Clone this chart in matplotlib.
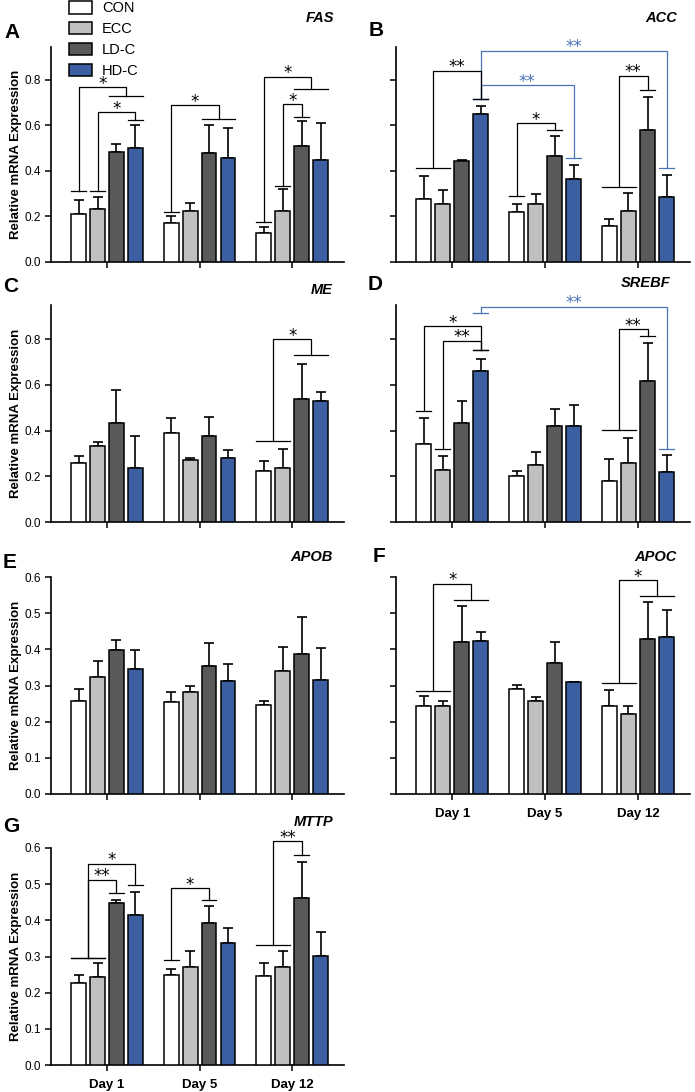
import numpy as np
import matplotlib
matplotlib.use('Agg')
import matplotlib.pyplot as plt
from matplotlib.patches import Patch

plt.rcParams['font.family'] = ['Liberation Sans', 'DejaVu Sans']

# groups and days
groups = ['CON', 'ECC', 'LD-C', 'HD-C']
days = ['Day 1', 'Day 5', 'Day 12']
colors = ['#ffffff', '#c0c0c0', '#595959', '#3b5fa1']
blue_line = '#4a72b8'

# mean values, rows = days, columns = groups
fas_mean = [[0.213, 0.231, 0.485, 0.502], [0.173, 0.225, 0.478, 0.459], [0.128, 0.226, 0.511, 0.449]]
fas_err = [[0.059, 0.055, 0.033, 0.098], [0.030, 0.033, 0.125, 0.131], [0.026, 0.093, 0.110, 0.163]]
acc_mean = [[0.276, 0.257, 0.443, 0.650], [0.219, 0.254, 0.464, 0.364], [0.159, 0.223, 0.581, 0.286]]
acc_err = [[0.103, 0.059, 0.005, 0.037], [0.038, 0.047, 0.090, 0.062], [0.032, 0.082, 0.146, 0.097]]
me_mean = [[0.258, 0.333, 0.435, 0.238], [0.391, 0.273, 0.375, 0.280], [0.223, 0.234, 0.540, 0.528]]
me_err = [[0.030, 0.017, 0.142, 0.137], [0.066, 0.009, 0.085, 0.037], [0.043, 0.084, 0.149, 0.041]]
srebf_mean = [[0.339, 0.226, 0.434, 0.660], [0.201, 0.248, 0.420, 0.420], [0.178, 0.258, 0.617, 0.219]]
srebf_err = [[0.118, 0.063, 0.096, 0.052], [0.021, 0.056, 0.073, 0.091], [0.099, 0.111, 0.164, 0.073]]
apob_mean = [[0.258, 0.323, 0.399, 0.346], [0.253, 0.283, 0.354, 0.312], [0.247, 0.340, 0.387, 0.315]]
apob_err = [[0.032, 0.045, 0.026, 0.051], [0.029, 0.017, 0.063, 0.047], [0.009, 0.066, 0.102, 0.089]]
apoc_mean = [[0.242, 0.244, 0.420, 0.424], [0.291, 0.257, 0.362, 0.309], [0.244, 0.221, 0.428, 0.434]]
apoc_err = [[0.028, 0.012, 0.101, 0.023], [0.011, 0.011, 0.057, 0.002], [0.044, 0.023, 0.102, 0.074]]
mttp_mean = [[0.226, 0.243, 0.447, 0.414], [0.249, 0.270, 0.392, 0.337], [0.245, 0.270, 0.461, 0.302]]
mttp_err = [[0.023, 0.039, 0.010, 0.064], [0.017, 0.046, 0.047, 0.043], [0.038, 0.044, 0.099, 0.067]]

# significance brackets: (left bars, left height, right bars, right height, top height, label, colour)
# bars given as (day index, group index)
fas_sig = [
    ([(0, 0)], 0.313, [(0, 2), (0, 3)], 0.731, 0.768, '*', 'k'),
    ([(0, 1)], 0.313, [(0, 3)], 0.624, 0.658, '*', 'k'),
    ([(1, 0)], 0.220, [(1, 2), (1, 3)], 0.627, 0.690, '*', 'k'),
    ([(2, 0)], 0.176, [(2, 2), (2, 3)], 0.760, 0.815, '*', 'k'),
    ([(2, 1)], 0.335, [(2, 2)], 0.639, 0.693, '*', 'k'),
]
acc_sig = [
    ([(0, 3)], 0.715, [(2, 3)], 0.411, 0.928, '**', blue_line),
    ([(0, 3)], 0.715, [(1, 3)], 0.455, 0.778, '**', blue_line),
    ([(0, 0), (0, 1)], 0.414, [(0, 3)], 0.715, 0.841, '**', 'k'),
    ([(1, 0)], 0.289, [(1, 2)], 0.580, 0.609, '*', 'k'),
    ([(2, 0), (2, 1)], 0.330, [(2, 2)], 0.756, 0.818, '**', 'k'),
]
me_sig = [
    ([(2, 0), (2, 1)], 0.353, [(2, 2), (2, 3)], 0.730, 0.800, '*', 'k'),
]
srebf_sig = [
    ([(0, 3)], 0.912, [(2, 3)], 0.321, 0.942, '**', blue_line),
    ([(0, 0)], 0.485, [(0, 3)], 0.752, 0.857, '*', 'k'),
    ([(0, 1)], 0.321, [(0, 3)], 0.752, 0.793, '**', 'k'),
    ([(2, 0), (2, 1)], 0.403, [(2, 2)], 0.813, 0.844, '**', 'k'),
]
apob_sig = []
apoc_sig = [
    ([(0, 0), (0, 1)], 0.286, [(0, 2), (0, 3)], 0.537, 0.582, '*', 'k'),
    ([(2, 0), (2, 1)], 0.307, [(2, 2), (2, 3)], 0.547, 0.591, '*', 'k'),
]
mttp_sig = [
    ([(0, 0), (0, 1)], 0.297, [(0, 3)], 0.497, 0.556, '*', 'k'),
    ([(0, 0), (0, 1)], 0.297, [(0, 2)], 0.476, 0.512, '**', 'k'),
    ([(1, 0)], 0.289, [(1, 2)], 0.456, 0.489, '*', 'k'),
    ([(2, 0), (2, 1)], 0.331, [(2, 2)], 0.580, 0.619, '**', 'k'),
]

W, H = 695, 1092
fig = plt.figure(figsize=(W / 100, H / 100), dpi=100)

pitch = 0.205
bw = 0.16


def bar_x(d, g):
    return d + (g - 1.5) * pitch


def px_axes(x0, x1, y0, y1):
    return fig.add_axes([x0 / W, 1 - y1 / H, (x1 - x0) / W, (y1 - y0) / H])


def draw_panel(ax, mean, err, sig, ymax, yticks, left, show_days):
    mean = np.array(mean)
    err = np.array(err)
    for g in range(4):
        xs = [bar_x(d, g) for d in range(3)]
        ax.bar(xs, mean[:, g], width=bw, color=colors[g], edgecolor='black',
               linewidth=1.1, zorder=3)
        ax.errorbar(xs, mean[:, g], yerr=[np.zeros(3), err[:, g]], fmt='none',
                    ecolor='black', elinewidth=1.2, capsize=3.5, capthick=1.2, zorder=2)
    for lb, lh, rb, rh, th, lab, col in sig:
        lx0 = min(bar_x(*b) for b in lb) - bw / 2
        lx1 = max(bar_x(*b) for b in lb) + bw / 2
        rx0 = min(bar_x(*b) for b in rb) - bw / 2
        rx1 = max(bar_x(*b) for b in rb) + bw / 2
        lc = (lx0 + lx1) / 2
        rc = (rx0 + rx1) / 2
        kw = dict(color=col, lw=0.9, clip_on=False, zorder=4 if col == 'k' else 3.5)
        ax.plot([lx0, lx1], [lh, lh], **kw)
        ax.plot([rx0, rx1], [rh, rh], **kw)
        ax.plot([lc, lc, rc, rc], [lh, th, th, rh], **kw)
        ax.annotate(lab, xy=((lc + rc) / 2, th), xytext=(0, 2.5), textcoords='offset points',
                    ha='center', va='center', fontsize=12, color=col,
                    family='DejaVu Sans', annotation_clip=False)
    ax.set_xlim(-0.605, 2.56)
    ax.set_ylim(0, ymax)
    ax.set_yticks(yticks)
    ax.set_xticks([0, 1, 2])
    for s in ['top', 'right']:
        ax.spines[s].set_visible(False)
    for s in ['left', 'bottom']:
        ax.spines[s].set_linewidth(1.2)
    ax.tick_params(axis='both', direction='out', length=4, width=1.1, labelsize=8.5)
    if left:
        ax.set_yticklabels(['%.1f' % t for t in yticks])
        ax.set_ylabel('Relative mRNA Expression', fontsize=9.5, fontweight='bold')
        ax.yaxis.set_label_coords(-0.10, 0.5)
    else:
        ax.set_yticklabels([])
    if show_days:
        ax.set_xticklabels(days, fontsize=9.5, fontweight='bold')
        ax.tick_params(axis='x', pad=6)
    else:
        ax.set_xticklabels([])


t1 = [0.0, 0.2, 0.4, 0.6, 0.8]
t2 = [0.0, 0.1, 0.2, 0.3, 0.4, 0.5, 0.6]

panels = [
    ('A', 'FAS', fas_mean, fas_err, fas_sig, (51, 344, 47, 262), 0.945, t1, True, False),
    ('B', 'ACC', acc_mean, acc_err, acc_sig, (396, 690, 47, 262), 0.945, t1, False, False),
    ('C', 'ME', me_mean, me_err, me_sig, (51, 344, 305, 522), 0.949, t1, True, False),
    ('D', 'SREBF', srebf_mean, srebf_err, srebf_sig, (396, 690, 305, 522), 0.949, t1, False, False),
    ('E', 'APOB', apob_mean, apob_err, apob_sig, (51, 344, 577, 794), 0.6, t2, True, False),
    ('F', 'APOC', apoc_mean, apoc_err, apoc_sig, (396, 690, 577, 794), 0.6, t2, False, True),
    ('G', 'MTTP', mttp_mean, mttp_err, mttp_sig, (51, 344, 848, 1065), 0.6, t2, True, True),
]

letter_pos = {'A': (4, 32), 'B': (369, 30), 'C': (3, 287), 'D': (368, 285),
              'E': (3, 563), 'F': (373, 557), 'G': (3, 826)}
gene_pos = {'FAS': (334, 18), 'ACC': (677, 18), 'ME': (333, 290), 'SREBF': (670, 283),
            'APOB': (333, 557), 'APOC': (677, 557), 'MTTP': (333, 822)}

for letter, gene, m, e, sig, box, ymax, ticks, left, show_days in panels:
    ax = px_axes(*box)
    draw_panel(ax, m, e, sig, ymax, ticks, left, show_days)
    lx, ly = letter_pos[letter]
    fig.text(lx / W, 1 - ly / H, letter, fontsize=15, fontweight='bold', va='center', ha='left')
    gx, gy = gene_pos[gene]
    fig.text(gx / W, 1 - gy / H, gene, fontsize=10.5, fontweight='bold', style='italic',
             va='center', ha='right')

handles = [Patch(facecolor=c, edgecolor='black', linewidth=1.1) for c in colors]
fig.legend(handles, groups, loc='upper left', bbox_to_anchor=(69 / W, 1 - 1 / H),
           frameon=False, fontsize=10.5, handlelength=1.55, handleheight=0.95,
           handletextpad=0.7, labelspacing=0.45, borderpad=0, borderaxespad=0)

fig.savefig('out.png', dpi=100)
